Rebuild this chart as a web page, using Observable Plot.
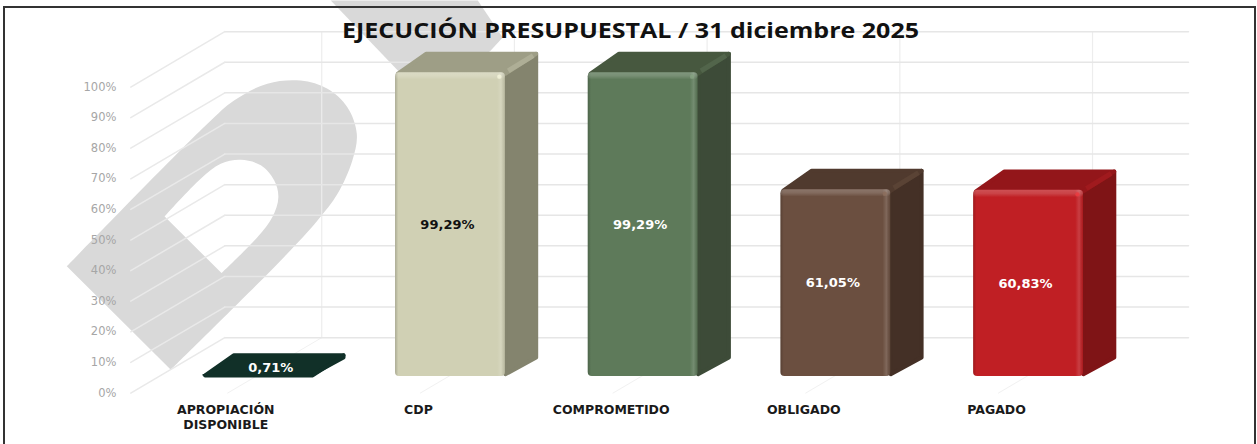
<!DOCTYPE html>
<html><head><meta charset="utf-8">
<script src="https://cdn.jsdelivr.net/npm/d3@7"></script>
<script src="https://cdn.jsdelivr.net/npm/@observablehq/plot@0.6"></script>
<style>
html,body{margin:0;padding:0;background:#fff;overflow:hidden;width:1257px;height:444px}
#wrap{position:relative;width:1257px;height:444px}
#frame{position:absolute;left:3px;top:6px;width:1249px;height:445px;border:2px solid #333;box-sizing:content-box;pointer-events:none}
#chart{position:absolute;left:0;top:0}
</style></head><body>
<div id="wrap"><div id="chart"></div><div id="frame"></div></div>
<script>
const title = "EJECUCIÓN PRESUPUESTAL / 31 diciembre 2025";
const categories = ["APROPIACIÓN\nDISPONIBLE","CDP","COMPROMETIDO","OBLIGADO","PAGADO"];
const values = [0.71,99.29,99.29,61.05,60.83];
const valueLabels = ["0,71%","99,29%","99,29%","61,05%","60,83%"];
const labelColors = ["#fff","#111","#fff","#fff","#fff"];
const frontColors = ["#113028","#D0D0B4","#5E7A5A","#6B4F40","#C01F24"];
const sideColors = ["#113028","#84846E","#3D4B38","#443026","#7F1416"];
const topColors = ["#113028","#9E9E86","#47583F","#503A2E","#93161A"];
const edgeColors = ["#113028","#AEAE96","#52654B","#5A4335","#A01A1E"];
const glintColors = ["#113028","#F6F6DC","#86A282","#8C6E5C","#EE3A3E"];
const yTicks = [0,10,20,30,40,50,60,70,80,90,100];

// watermark outline, in chart units (category index, percent)
const markOuterX = [-0.991,-0.261,-0.123,0.050,0.223,0.362,0.465,0.514,0.491,0.414,0.310,0.136,-0.451];
const markOuterY = [36.0,82.6,90.2,95.7,96.7,94.0,88.0,79.3,70.6,59.7,51.0,39.0,2.2];
const markHoleX = [-0.483,-0.296,-0.192,-0.088,0.016,0.085,0.107,0.076,-0.002,-0.188];
const markHoleY = [52.3,64.6,69.5,70.8,69.0,64.1,58.6,52.1,45.5,33.8];
const markTopX = [0.379,1.142,1.271,1.209,0.950,0.732];
const markTopY = [122.9,122.9,110.8,106.5,91.8,99.7];

// projection of the pseudo-3D box, in chart units
const half = 0.285, depthX = 0.160, depthY = 6.2, inX = 0.012, inY = 0.7;
const wallX = -0.171, wallRight = 4.83, wallY = 12.7, frontX = -0.659, frontY = -5.4;

const poly = (id, color, pts) => pts.map(([x,y]) => ({id, color, x, y}));
const faces = values.flatMap((v,i) => {
  const l=i-half, r=i+half;
  return [
    ...poly("s"+i, sideColors[i], [[r,inY],[r+depthX,depthY],[r+depthX,v+depthY],[r,v]]),
    ...poly("t"+i, topColors[i], [[l+inX,v-inY/2],[l+depthX,v+depthY],[r+depthX,v+depthY],[r,v-inY/2]])
  ];
});
const edges = values.flatMap((v,i) => v>5 ? poly("e"+i, edgeColors[i], [[i+half+0.015,v+0.6],[i+half+depthX*0.9,v+depthY*0.9]]) : []);
const bars = values.map((v,i)=>({i, v, x1:i-half, x2:i+half, color:frontColors[i], label:valueLabels[i], lc:labelColors[i], glint:glintColors[i]}));
const tall = bars.filter(d=>d.v>5);

const seg = (id,a,b)=>[{id,x:a[0],y:a[1]},{id,x:b[0],y:b[1]}];
const grid = yTicks.flatMap(t=>seg("w"+t,[wallX,t+wallY],[wallRight,t+wallY]));
const sideGrid = yTicks.flatMap(t=>seg("l"+t,[frontX,t+frontY],[wallX,t+wallY]));
const verticals = [0,1,2,3,4].flatMap(i=>seg("v"+i,[i+0.332,wallY],[i+0.332,100+wallY]));
const floors = [0,1,2,3,4].flatMap(i=>seg("f"+i,[i+0.332,wallY],[i-0.156,frontY]));
const shape = (xs,ys,id,color)=>xs.map((x,k)=>({id,color,x,y:ys[k]}));

const defs = () => {
  const d = d3.create("svg:defs");
  const g = d.append("linearGradient").attr("id","bevelX").attr("x1",0).attr("x2",1).attr("y1",0).attr("y2",0);
  [[0,"#000",.18],[.03,"#000",0],[.93,"#fff",0],[.965,"#fff",.14],[1,"#000",.1]].forEach(([o,c,a])=>
    g.append("stop").attr("offset",o).attr("stop-color",c).attr("stop-opacity",a));
  const h = d.append("linearGradient").attr("id","bevelY").attr("x1",0).attr("x2",0).attr("y1",0).attr("y2",1);
  [[0,"#fff",.22],[.5,"#fff",.16],[1,"#fff",0]].forEach(([o,c,a])=>
    h.append("stop").attr("offset",o).attr("stop-color",c).attr("stop-opacity",a));
  return d.node();
};

const plot = Plot.plot({
  width:1257, height:444,
  marginLeft:160.9, marginRight:132.6, marginTop:70, marginBottom:68,
  style:{background:"transparent", fontFamily:"'DejaVu Sans',sans-serif"},
  x:{domain:[-0.5,4.5]},
  y:{domain:[0,100]},
  color:{type:"identity"},
  marks:[
    defs,
    Plot.line(shape(markOuterX,markOuterY,"o","#D9D9D9"),{x:"x",y:"y",z:"id",fill:"color",stroke:null,curve:"catmull-rom"}),
    Plot.line(shape(markHoleX,markHoleY,"h","#FFFFFF"),{x:"x",y:"y",z:"id",fill:"color",stroke:null,curve:"catmull-rom"}),
    Plot.line(shape(markTopX,markTopY,"t","#D9D9D9"),{x:"x",y:"y",z:"id",fill:"color",stroke:null,curve:"linear-closed"}),
    Plot.line(floors,{x:"x",y:"y",z:"id",stroke:"#F1F1F1",strokeWidth:1}),
    Plot.line(verticals,{x:"x",y:"y",z:"id",stroke:"#EDEDED",strokeWidth:1.2}),
    Plot.line(grid,{x:"x",y:"y",z:"id",stroke:"#E6E6E6",strokeWidth:1.5}),
    Plot.line(sideGrid,{x:"x",y:"y",z:"id",stroke:"#E9E9E9",strokeWidth:1.5}),
    Plot.axisY({ticks:yTicks,tickFormat:d=>d+"%",tickSize:0,tickPadding:0,dx:-45,dy:16.5,label:null,fontSize:11.5,fill:"#A6A6A6"}),
    Plot.axisX({ticks:[0,1,2,3,4],tickFormat:i=>categories[i],tickSize:0,tickPadding:0,dx:-32,dy:27,label:null,fontSize:12.5,fontWeight:"bold",fill:"#1a1a1a",lineHeight:1.2}),
    Plot.line(faces,{x:"x",y:"y",z:"id",fill:"color",stroke:"color",strokeWidth:4,strokeLinejoin:"round",curve:"linear-closed"}),
    Plot.line(edges,{x:"x",y:"y",z:"id",stroke:"color",strokeWidth:5,strokeLinecap:"butt"}),
    Plot.rect(bars,{x1:"x1",x2:"x2",y1:0,y2:"v",fill:"color",rx:4}),
    Plot.rect(tall,{x1:"x1",x2:"x2",y1:0,y2:"v",fill:"url(#bevelX)",rx:4}),
    Plot.rect(tall,{x1:"x1",x2:"x2",y1:d=>d.v-2.4,y2:"v",fill:"url(#bevelY)",rx:4}),
    Plot.dot(tall,{x:"x2",y:"v",dx:-6,dy:4,r:2.2,fill:"glint",fillOpacity:0.8,stroke:null}),
    Plot.text(tall,{x:"i",y:d=>d.v/2,text:"label",fill:"lc",fontSize:13,fontWeight:"bold",dx:-3}),
    Plot.text(bars.filter(d=>d.v<=5),{x:"i",y:d=>d.v,text:"label",fill:"lc",fontSize:13,fontWeight:"bold",dx:13,dy:-6}),
    Plot.text([title],{frameAnchor:"top",dx:-12.6,dy:-39,lineAnchor:"middle",fontSize:20.5,fontWeight:"bold",fill:"#111",fontFamily:"'Open Sans',sans-serif"})
  ]
});
d3.select(plot).selectAll("text").filter(function(){return this.textContent===title;})
  .attr("textLength",577).attr("lengthAdjust","spacingAndGlyphs");
document.getElementById("chart").append(plot);
</script></body></html>
